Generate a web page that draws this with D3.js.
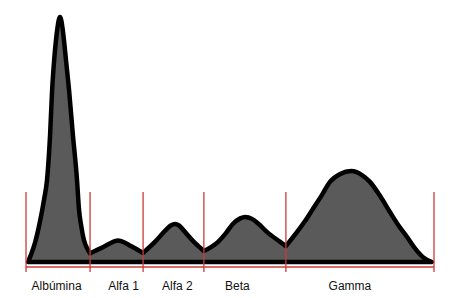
<!DOCTYPE html>
<html>
<head>
<meta charset="utf-8">
<script src="https://cdn.jsdelivr.net/npm/d3@7.9.0/dist/d3.min.js"></script>
<style>
  html, body { margin: 0; padding: 0; background: #fff; }
  svg { display: block; }
  .label { font-family: "Liberation Sans", Arial, sans-serif; font-size: 12px; fill: #111; }
</style>
</head>
<body>
<svg id="chart" width="454" height="298"></svg>
<script>
// fractions and their boundaries (relative mobility, 0..100)
const fractions = ['Albúmina', 'Alfa 1', 'Alfa 2', 'Beta', 'Gamma'];
const boundaries = [0, 15.7, 28.7, 43.6, 63.7, 100];
const labelPos = [7.5, 23.9, 37.1, 51.8, 79.4];

// densitometry trace (mobility, relative density; albumin peak = 100)
const mobility = [
  0.5, 1.2, 2.2, 3.4, 4.4, 5.15, 5.9, 6.4, 6.9, 7.35, 7.7, 8.33, 8.95, 9.3, 9.8, 10.55, 11.5, 12.5, 13.0, 13.5, 14.2, 15.2, 15.7,
  19.4, 21.6, 22.55, 23.5, 25.7, 28.7,
  31.6, 34.3, 35.5, 36.5, 37.5, 39.0, 41.4, 43.6,
  46.8, 49.0, 50.7, 52.5, 53.7, 55.4, 56.9, 59.1, 62.3, 63.7,
  66.4, 68.4, 70.3, 72.5, 74.5, 77.0, 79.7, 82.35, 84.3, 86.8, 89.2, 91.4, 93.4, 95.3, 97.3, 99.5
];
const density = [
  0, 2.9, 7.8, 16.3, 25.3, 33.5, 51.8, 70.2, 82.4, 90.6, 95.5, 100, 95.5, 90.6, 82.4, 70.2, 51.8, 33.5, 21.2, 15.1, 9.0, 4.9, 3.5,
  6.5, 8.4, 8.8, 8.4, 6.5, 3.7,
  8.2, 13.1, 14.9, 15.5, 14.9, 12.2, 7.8, 4.5,
  7.8, 11.8, 15.5, 17.8, 18.4, 17.6, 15.7, 12.2, 8.2, 6.5,
  12.2, 16.7, 21.6, 27.3, 32.7, 35.9, 37.1, 35.5, 32.7, 26.9, 20.4, 14.7, 10.2, 5.7, 2.0, 0
];

const svg = d3.select('#chart');
const x = d3.scaleLinear().domain([0, 100]).range([26, 434]);
const y = d3.scaleLinear().domain([0, 100]).range([262, 17]);
const red = '#cc3a3a';

const points = mobility.map((m, i) => [m, density[i]]);

// split the trace at the fraction boundaries so valleys stay sharp
const segments = [];
let current = [];
points.forEach((p) => {
  current.push(p);
  if (boundaries.slice(1, -1).includes(p[0])) {
    segments.push(current);
    current = [p];
  }
});
segments.push(current);

const line = d3.line()
  .x((d) => x(d[0]))
  .y((d) => y(d[1]))
  .curve(d3.curveMonotoneX);

const pathD = segments
  .map((seg, i) => (i === 0 ? line(seg) : line(seg).replace(/^M[^LC]*/, '')))
  .join('') + 'Z';

// red horizontal line under the trace
svg.append('line')
  .attr('x1', x(0)).attr('x2', x(100))
  .attr('y1', y(0) + 5).attr('y2', y(0) + 5)
  .attr('stroke', red).attr('stroke-width', 1.3);

svg.append('path')
  .attr('d', pathD)
  .attr('fill', '#5a5a5a')
  .attr('stroke', '#000')
  .attr('stroke-width', 4.5)
  .attr('stroke-linejoin', 'round');

// red boundary lines
svg.selectAll('line.bound')
  .data(boundaries)
  .join('line')
  .attr('class', 'bound')
  .attr('x1', (d) => x(d)).attr('x2', (d) => x(d))
  .attr('y1', y(28.6)).attr('y2', y(0) + 10)
  .attr('stroke', red)
  .attr('stroke-width', 1.3);

svg.selectAll('text.label')
  .data(fractions)
  .join('text')
  .attr('class', 'label')
  .attr('x', (d, i) => x(labelPos[i]))
  .attr('y', 290)
  .attr('text-anchor', 'middle')
  .text((d) => d);
</script>
</body>
</html>
